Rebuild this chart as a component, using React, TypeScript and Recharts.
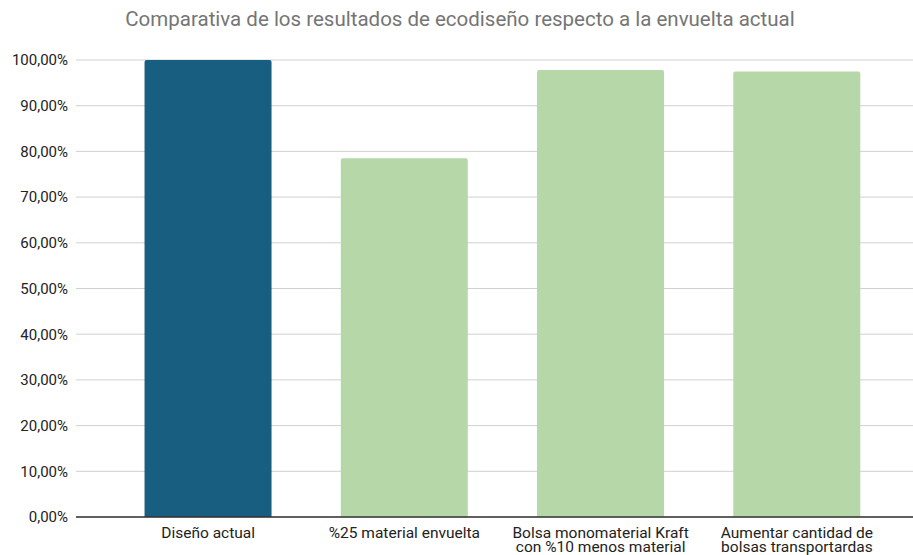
import React from "react";
import { BarChart, Bar, XAxis, YAxis, CartesianGrid, Cell } from "recharts";

const categories = [
  "Diseño actual",
  "%25 material envuelta",
  "Bolsa monomaterial Kraft\ncon %10 menos material",
  "Aumentar cantidad de\nbolsas transportardas",
];
const values = [100, 78.5, 97.8, 97.5];
const barColors = ["#185e80", "#b6d7a8", "#b6d7a8", "#b6d7a8"];
const yTicks = [0, 10, 20, 30, 40, 50, 60, 70, 80, 90, 100];
const title = "Comparativa de los resultados de ecodiseño respecto a la envuelta actual";

const data = categories.map((c, i) => ({ name: c, value: values[i] }));

const fmt = (v: number) => v.toFixed(2).replace(".", ",") + "%";

const XTick = (props: any) => {
  const { x, y, payload } = props;
  const lines = String(payload.value).split("\n");
  return (
    <text
      x={x}
      y={y}
      textAnchor="middle"
      fill="#222"
      fontSize={15.5}
      fontFamily="Roboto, sans-serif"
    >
      {lines.map((l: string, i: number) => (
        <tspan key={i} x={x} dy={i === 0 ? 13 : 14}>
          {l}
        </tspan>
      ))}
    </text>
  );
};

export default function App() {
  return (
    <div style={{ position: "absolute", left: 0, top: 0, width: 913, height: 555, background: "#fff" }}>
      <div
        style={{
          position: "absolute",
          left: 0,
          top: 7,
          width: 920,
          textAlign: "center",
          fontFamily: "Roboto, sans-serif",
          fontSize: 20.5,
          color: "#757575",
        }}
      >
        {title}
      </div>
      <BarChart
        width={913}
        height={555}
        data={data}
        margin={{ top: 60, right: 0, bottom: 0, left: 0 }}
        barCategoryGap="17.6%"
      >
        <CartesianGrid vertical={false} stroke="#d0d0d0" />
        <XAxis
          dataKey="name"
          height={38}
          interval={0}
          tickLine={false}
          axisLine={{ stroke: "#333", strokeWidth: 1.5 }}
          tick={<XTick />}
          padding={{ left: 34, right: 18 }}
        />
        <YAxis
          width={76}
          domain={[0, 100]}
          ticks={yTicks}
          tickFormatter={fmt}
          axisLine={false}
          tickLine={false}
          tick={{ fill: "#222", fontSize: 15, fontFamily: "Roboto, sans-serif" }}
          tickMargin={2}
        />
        <Bar dataKey="value" isAnimationActive={false} radius={[2, 2, 0, 0]}>
          {data.map((d, i) => (
            <Cell key={i} fill={barColors[i]} />
          ))}
        </Bar>
      </BarChart>
    </div>
  );
}
